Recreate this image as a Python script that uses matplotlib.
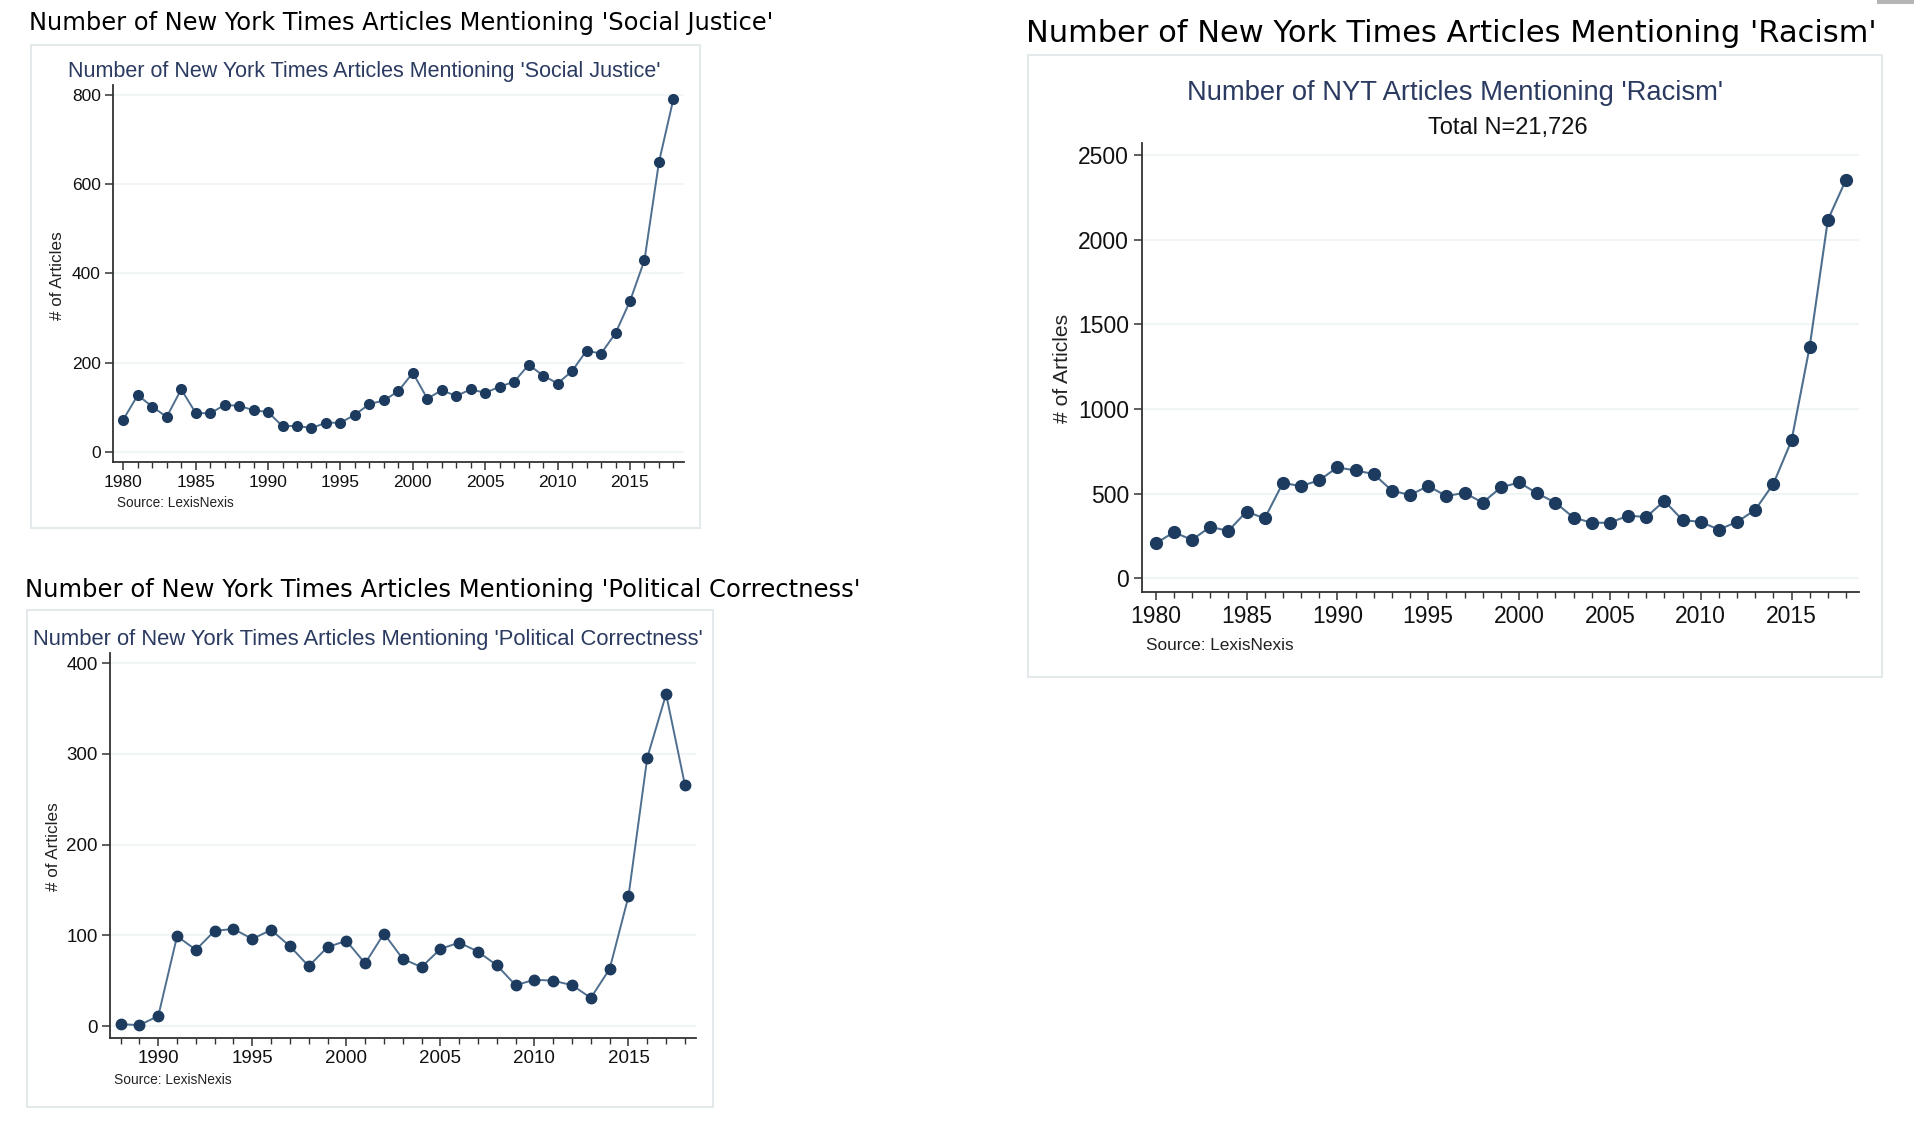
import matplotlib
matplotlib.use("Agg")
import matplotlib.pyplot as plt
from matplotlib.patches import Rectangle

W, H = 1914, 1126

# --- données ---
annees_sj = list(range(1980, 2019))
social_justice = [72, 127, 101, 78, 140, 87, 86, 105, 103, 93,
                  89, 57, 58, 53, 65, 65, 83, 107, 115, 136,
                  177, 119, 138, 125, 140, 132, 146, 157, 195, 171,
                  153, 181, 227, 220, 266, 338, 430, 650, 792]

annees_pc = list(range(1988, 2019))
political_correctness = [2, 1, 11, 99, 84, 105, 107, 96, 106, 88,
                         66, 87, 94, 69, 102, 74, 65, 85, 92, 82,
                         67, 45, 51, 50, 45, 31, 63, 143, 296, 366, 266]

annees_rac = list(range(1980, 2019))
racism = [206, 272, 227, 304, 280, 394, 354, 563, 545, 579,
          655, 637, 616, 518, 492, 545, 486, 505, 447, 537,
          566, 502, 447, 359, 328, 328, 370, 362, 457, 344,
          333, 288, 333, 404, 558, 814, 1369, 2117, 2355]

yticks_sj = [0, 200, 400, 600, 800]
yticks_pc = [0, 100, 200, 300, 400]
yticks_rac = [0, 500, 1000, 1500, 2000, 2500]
xticks_sj = [1980, 1985, 1990, 1995, 2000, 2005, 2010, 2015]
xticks_pc = [1990, 1995, 2000, 2005, 2010, 2015]

NAVY = '#1c3b5e'
LIGNE = '#4f6f8f'
TITRE = '#2a3a60'
GRILLE = '#eef3f4'
BORD = '#e4eaec'
SANS = ['Liberation Sans', 'DejaVu Sans']


def fx(x):
    return x / W


def fy(y):
    return 1 - y / H


def boite(fig, x0, y0, x1, y1):
    fig.patches.append(Rectangle((fx(x0), fy(y1)), fx(x1) - fx(x0), fy(y0) - fy(y1),
                                 transform=fig.transFigure, facecolor='white',
                                 edgecolor=BORD, linewidth=1.5, zorder=-10))


def panneau(fig, rect_px, x, y, xlim, ylim, yticks, xticks, xminor, tick_fs, ms, lw):
    l, t, r, b = rect_px
    ax = fig.add_axes([fx(l), fy(b), fx(r) - fx(l), fy(t) - fy(b)], zorder=5)
    ax.plot(x, y, color=LIGNE, linewidth=lw, zorder=2)
    ax.plot(x, y, 'o', color=NAVY, markersize=ms, zorder=3)
    ax.set_xlim(*xlim)
    ax.set_ylim(*ylim)
    ax.set_yticks(yticks)
    ax.set_xticks(xticks)
    ax.set_xticks(xminor, minor=True)
    for yy in yticks:
        ax.axhline(yy, color=GRILLE, linewidth=1.2, zorder=1)
    ax.spines['top'].set_visible(False)
    ax.spines['right'].set_visible(False)
    for s in ('left', 'bottom'):
        ax.spines[s].set_color('#333333')
        ax.spines[s].set_linewidth(1.3)
    ax.tick_params(axis='both', which='major', length=6, width=1.1, color='#333333',
                   labelsize=tick_fs, labelcolor='#111111', pad=3)
    ax.tick_params(axis='x', which='minor', length=4, width=1.0, color='#333333')
    for lab in ax.get_xticklabels() + ax.get_yticklabels():
        lab.set_family(SANS)
    ax.set_facecolor('none')
    return ax


fig = plt.figure(figsize=(W / 100, H / 100), dpi=100)
fig.patch.set_facecolor('white')

# petite barre grise en haut à droite
fig.patches.append(Rectangle((fx(1877), fy(4)), fx(37), fy(0) - fy(4),
                             transform=fig.transFigure, facecolor='#b5b5b5',
                             edgecolor='none'))

# --- Social Justice ---
boite(fig, 31, 45, 700, 528)
fig.text(fx(29), fy(23), "Number of New York Times Articles Mentioning 'Social Justice'",
         fontsize=17.4, family='DejaVu Sans', va='center', ha='left', color='black')
fig.text(fx(364), fy(72), "Number of New York Times Articles Mentioning 'Social Justice'",
         fontsize=15.5, family=SANS, va='center', ha='center', color=TITRE)
panneau(fig, (113.3, 85, 684, 462.3), annees_sj, social_justice,
        (1979.31, 2018.73), (-23.8, 823), yticks_sj, xticks_sj, annees_sj, 12.5, 7, 1.4)
fig.text(fx(58), fy(276), "# of Articles", rotation=90, fontsize=12.3, family=SANS,
         va='center', ha='center', color='#222222')
fig.text(fx(117), fy(503), "Source: LexisNexis", fontsize=9.8, family=SANS,
         va='center', ha='left', color='#222222')

# --- Political Correctness ---
boite(fig, 27, 610, 713, 1107)
fig.text(fx(25), fy(590), "Number of New York Times Articles Mentioning 'Political Correctness'",
         fontsize=17.5, family='DejaVu Sans', va='center', ha='left', color='black')
fig.text(fx(368), fy(640), "Number of New York Times Articles Mentioning 'Political Correctness'",
         fontsize=15.8, family=SANS, va='center', ha='center', color=TITRE)
panneau(fig, (110.3, 652.7, 696, 1037.7), annees_pc, political_correctness,
        (1987.45, 2018.59), (-12.9, 411.7), yticks_pc, xticks_pc, annees_pc, 13.5, 7.5, 1.4)
fig.text(fx(53), fy(847), "# of Articles", rotation=90, fontsize=12.3, family=SANS,
         va='center', ha='center', color='#222222')
fig.text(fx(114), fy(1080), "Source: LexisNexis", fontsize=9.9, family=SANS,
         va='center', ha='left', color='#222222')

# --- Racism ---
boite(fig, 1028, 55, 1882, 677)
fig.text(fx(1026), fy(33), "Number of New York Times Articles Mentioning 'Racism'",
         fontsize=22, family='DejaVu Sans', va='center', ha='left', color='black')
fig.text(fx(1455), fy(93), "Number of NYT Articles Mentioning 'Racism'",
         fontsize=19.7, family=SANS, va='center', ha='center', color=TITRE)
fig.text(fx(1508), fy(128), "Total N=21,726",
         fontsize=17, family=SANS, va='center', ha='center', color='#111111')
panneau(fig, (1141.7, 142.7, 1859.3, 592.3), annees_rac, racism,
        (1979.23, 2018.73), (-82.7, 2573), yticks_rac, xticks_sj, annees_rac, 16.5, 8.5, 1.5)
fig.text(fx(1063), fy(368), "# of Articles", rotation=90, fontsize=15.2, family=SANS,
         va='center', ha='center', color='#222222')
fig.text(fx(1146), fy(645), "Source: LexisNexis", fontsize=12.4, family=SANS,
         va='center', ha='left', color='#222222')

plt.savefig('out.png', dpi=100)
